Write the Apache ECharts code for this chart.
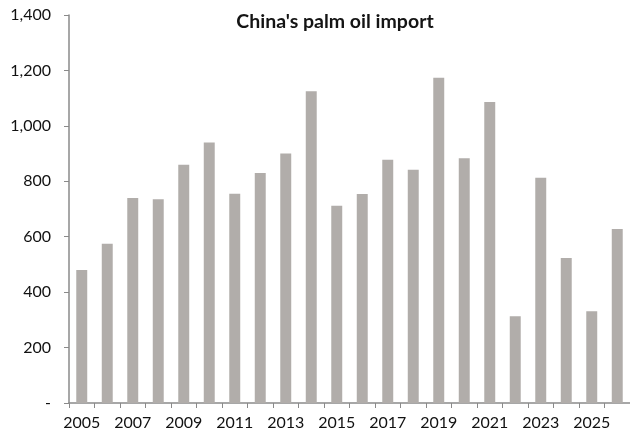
<!DOCTYPE html>
<html>
<head>
<meta charset="utf-8">
<script src="https://cdn.jsdelivr.net/npm/echarts@6/dist/echarts.min.js"></script>
<style>
  html, body { margin: 0; padding: 0; background: #fff; }
  #chart { width: 630px; height: 439px; }
</style>
</head>
<body>
<div id="chart"></div>
<script>
// China's palm oil imports by year
const years = ['2005','2006','2007','2008','2009','2010','2011','2012','2013','2014','2015',
               '2016','2017','2018','2019','2020','2021','2022','2023','2024','2025','2026'];
const imports = [480, 575, 740, 735, 860, 940, 755, 830, 900, 1125, 712,
                 754, 878, 842, 1174, 883, 1086, 313, 813, 523, 331, 628];
const yTicks = [0, 200, 400, 600, 800, 1000, 1200, 1400];

const chart = echarts.init(document.getElementById('chart'));
const fontFamily = 'Lato, "Open Sans", sans-serif';

chart.setOption({
  animation: false,
  title: {
    text: "China's palm oil import",
    left: 330,
    top: 7,
    textAlign: 'center',
    textStyle: { fontFamily, fontSize: 19.5, fontWeight: 'bold', color: '#141414' }
  },
  grid: { left: 69, top: 15, width: 562, height: 388, containLabel: false },
  xAxis: {
    type: 'category',
    data: years,
    boundaryGap: true,
    axisLine: { lineStyle: { color: '#8a8a8a', width: 1.5 } },
    axisTick: { show: true, alignWithLabel: false, interval: 0, length: 5, lineStyle: { color: '#8a8a8a' } },
    axisLabel: {
      interval: 1,
      margin: 12,
      fontFamily, fontSize: 16, color: '#111'
    }
  },
  yAxis: {
    type: 'value',
    min: yTicks[0],
    max: yTicks[yTicks.length - 1],
    interval: 200,
    splitLine: { show: false },
    axisLine: { show: true, lineStyle: { color: '#8a8a8a', width: 1.5 } },
    axisTick: { show: true, length: 5, lineStyle: { color: '#8a8a8a' } },
    axisLabel: {
      margin: 18,
      fontFamily, fontSize: 16, color: '#111',
      formatter: v => v === 0 ? '-' : v.toLocaleString('en-US')
    }
  },
  series: [{
    type: 'bar',
    data: imports,
    barWidth: '43%',
    itemStyle: { color: '#b1adaa' }
  }]
});
</script>
</body>
</html>
